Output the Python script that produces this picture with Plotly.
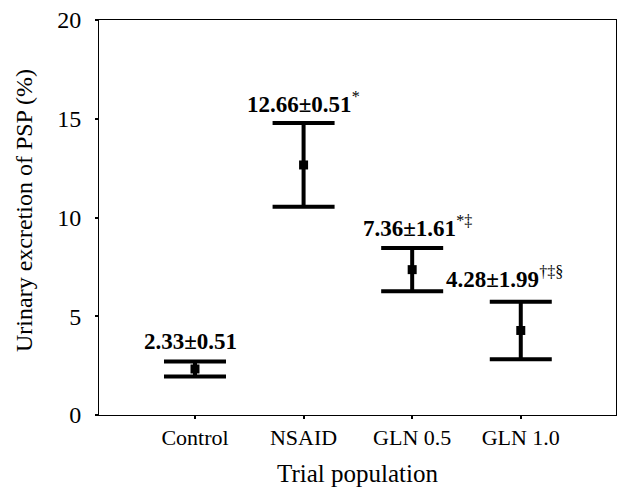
import plotly.graph_objects as go

categories = ["Control", "NSAID", "GLN 0.5", "GLN 1.0"]
means = [2.33, 12.66, 7.36, 4.28]
err_plot = [0.38, 2.12, 1.10, 1.46]      # half-length of drawn error bars
sd_label = ["0.51", "0.51", "1.61", "1.99"]
sup_marks = ["", "*", "*‡", "†‡§"]
y_ticks = [0, 5, 10, 15, 20]

# label placement (pixels) - style only
label_xshift = [-4, 0, 5, -16]
label_yshift = [20, 21, 21, 24]

W, H = 617, 491
L, R, T, B = 99, 1, 20, 76
pw, ph = W - L - R, H - T - B

def px(x, y):
    return (x - L) / pw, (H - B - y) / ph

x_idx = list(range(len(categories)))

fig = go.Figure()
fig.add_trace(go.Scatter(
    x=x_idx, y=means, mode="markers",
    marker=dict(symbol="square", size=9, color="black"),
    error_y=dict(type="data", array=err_plot, visible=True,
                 color="black", thickness=4, width=31),
    showlegend=False,
))

for i in x_idx:
    sup = f"<sup>{sup_marks[i]}</sup>" if sup_marks[i] else ""
    fig.add_annotation(
        x=i, y=means[i] + err_plot[i], xref="x", yref="y",
        text=f"<b>{means[i]:.2f}±{sd_label[i]}</b>{sup}",
        showarrow=False, xanchor="center", yanchor="middle",
        xshift=label_xshift[i], yshift=label_yshift[i],
        font=dict(family="Liberation Serif", size=23, color="black"),
    )

tx, ty = px(357, 474)
fig.add_annotation(
    x=tx, y=ty, xref="paper", yref="paper", text="Trial population",
    showarrow=False, xanchor="center", yanchor="middle",
    font=dict(family="Liberation Serif", size=25, color="black"),
)
yx, yy = px(24, 211)
fig.add_annotation(
    x=yx, y=yy, xref="paper", yref="paper",
    text="Urinary excretion of PSP (%)", textangle=-90, showarrow=False,
    xanchor="center", yanchor="middle",
    font=dict(family="Liberation Serif", size=24, color="black"),
)

fig.update_layout(
    width=W, height=H,
    margin=dict(l=L, r=R, t=T, b=B),
    paper_bgcolor="white", plot_bgcolor="white",
    font=dict(family="Liberation Serif", color="black"),
)

fig.update_xaxes(
    range=[-0.884, 3.877], tickvals=x_idx, ticktext=categories,
    showline=True, linecolor="black", linewidth=1, mirror=True,
    ticks="outside", ticklen=3, tickwidth=2, tickcolor="black",
    showgrid=False, zeroline=False,
    tickfont=dict(family="Liberation Serif", size=22, color="black"),
)
fig.update_yaxes(
    range=[0, 20], tickvals=y_ticks,
    showline=True, linecolor="black", linewidth=1, mirror=True,
    ticks="outside", ticklen=3, tickwidth=2, tickcolor="black",
    showgrid=False, zeroline=False, ticklabelstandoff=9,
    tickfont=dict(family="Liberation Serif", size=24, color="black"),
)

fig.write_html("out.html", config={"displayModeBar": False},
               post_script="document.body.style.margin='0';")
